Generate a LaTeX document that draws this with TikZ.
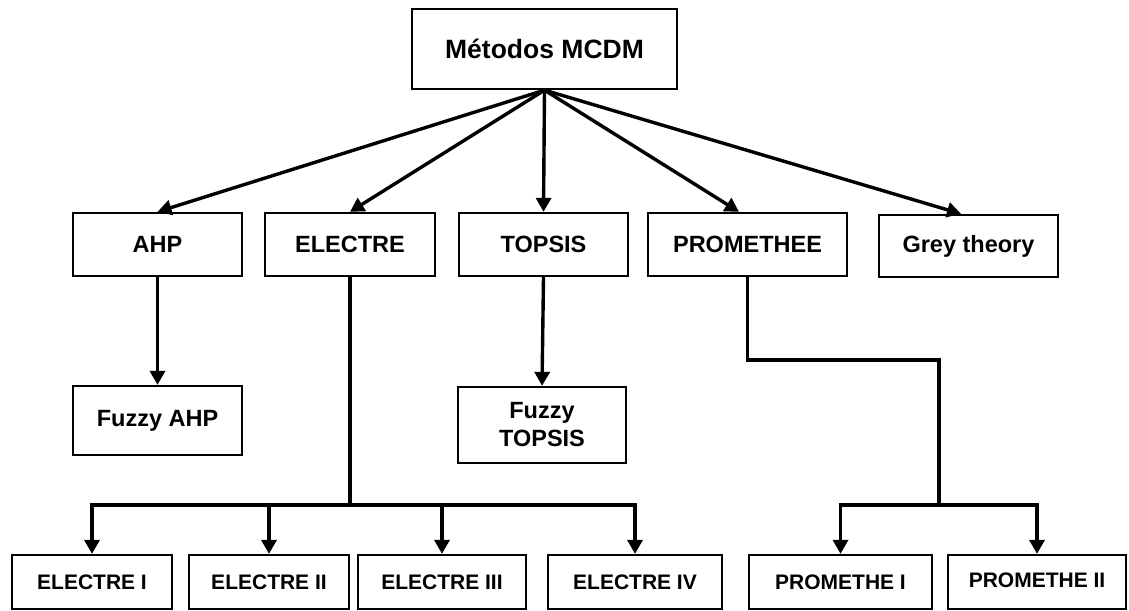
\documentclass[tikz,border=0pt]{standalone}
\usepackage{fontspec}
\setmainfont{Liberation Sans}
\usetikzlibrary{arrows.meta}

\begin{document}
\begin{tikzpicture}[x=1pt, y=-1pt,
        box/.style={draw, line width=2.3pt, inner sep=0pt, align=center,
            font=\bfseries\fontsize{23.5}{28}\selectfont},
        link/.style={line width=3.4pt, -{Triangle[length=14pt, width=15pt]}},
        bar/.style={line width=3.4pt}]
      \useasboundingbox (0,0) rectangle (1129,610);
      \node[box, minimum width=265pt, minimum height=80pt,
            font=\bfseries\fontsize{26.5}{30}\selectfont] (MCDM) at (544.5,49) {Métodos MCDM};
      \node[box, minimum width=169pt, minimum height=63pt] (AHP) at (157.5,244.5) {AHP};
      \node[box, minimum width=170pt, minimum height=63pt] (Electre) at (350,244.5) {ELECTRE};
      \node[box, minimum width=169pt, minimum height=63pt] (Topsis) at (543.5,244.5) {TOPSIS};
      \node[box, minimum width=199pt, minimum height=63pt] (Promethee) at (747.5,244.5) {PROMETHEE};
      \node[box, minimum width=179pt, minimum height=62pt] (Grey) at (968.5,246) {Grey theory};
      \node[box, minimum width=169pt, minimum height=69pt] (FuzzyAHP) at (157.5,420.5) {Fuzzy AHP};
      \node[box, minimum width=168pt, minimum height=76pt] (FuzzyTopsis) at (542,425) {Fuzzy\\TOPSIS};
      \node[box, minimum width=160pt, minimum height=54pt,
            font=\bfseries\fontsize{21}{25}\selectfont] (ElecI) at (92,582) {ELECTRE I};
      \node[box, minimum width=160pt, minimum height=54pt,
            font=\bfseries\fontsize{21}{25}\selectfont] (ElecII) at (269,582) {ELECTRE II};
      \node[box, minimum width=168pt, minimum height=54pt,
            font=\bfseries\fontsize{21}{25}\selectfont] (ElecIII) at (442,582) {ELECTRE III};
      \node[box, minimum width=174pt, minimum height=54pt,
            font=\bfseries\fontsize{21}{25}\selectfont] (ElecIV) at (635,582) {ELECTRE IV};
      \node[box, minimum width=183pt, minimum height=54pt,
            font=\bfseries\fontsize{21}{25}\selectfont] (PromI) at (840.5,582) {PROMETHE I};
      \node[box, minimum width=178pt, minimum height=54pt,
            font=\bfseries\fontsize{21}{25}\selectfont] (PromII) at (1037,582) {\raisebox{4pt}{PROMETHE II}};
      % top level
      \draw[link] (MCDM.south) -- (AHP.north);
      \draw[link] (MCDM.south) -- (Electre.north);
      \draw[link] (MCDM.south) -- (Topsis.north);
      \draw[link] (MCDM.south) -- ([xshift=-8.5pt]Promethee.north);
      \draw[link] (MCDM.south) -- ([xshift=-7.5pt]Grey.north);
      % fuzzy variants
      \draw[link] (AHP.south) -- (FuzzyAHP.north);
      \draw[link] (Topsis.south) -- (FuzzyTopsis.north);
      % electre family
      \coordinate (ElecBar) at (350,505);
      \draw[bar] (Electre.south) -- (ElecBar);
      \draw[link] (ElecBar) -| (ElecI.north);
      \draw[link] (ElecBar) -| (ElecII.north);
      \draw[link] (ElecBar) -| (ElecIII.north);
      \draw[link] (ElecBar) -| (ElecIV.north);
      % promethee family
      \coordinate (PromTurn) at (939,360);
      \coordinate (PromBar) at (939,505);
      \draw[bar] (Promethee.south) |- (PromTurn) -- (PromBar);
      \draw[link] (PromBar) -| (PromI.north);
      \draw[link] (PromBar) -| (PromII.north);
    \end{tikzpicture}
\end{document}
